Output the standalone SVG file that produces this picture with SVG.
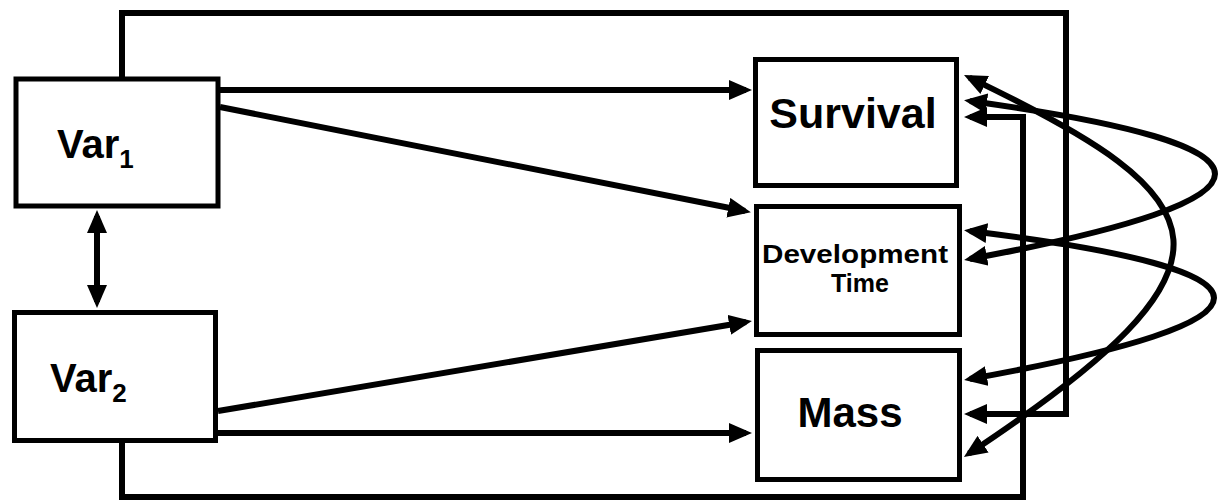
<svg xmlns="http://www.w3.org/2000/svg" width="1220" height="503" viewBox="0 0 1220 503">
<style>
.box{fill:#fff;stroke:#000;stroke-width:5}
.ln{fill:none;stroke:#000;stroke-width:6}
.bt{font-family:"Liberation Sans",Arial,sans-serif;font-weight:bold;fill:#000}
</style>
<defs>
<marker id="ah" markerUnits="userSpaceOnUse" markerWidth="23" markerHeight="20" refX="17" refY="10" orient="auto-start-reverse" viewBox="0 0 23 20">
<path d="M0,0 L23,10 L0,20 z" fill="#000"/>
</marker>
</defs>
<rect width="1220" height="503" fill="#fff"/>
<g id="connectors">
<path class="ln" d="M122,77 V13 H1066 V414 H970" marker-end="url(#ah)"/>
<path class="ln" d="M122,443 V497 H1023 V117 H970" marker-end="url(#ah)"/>
<path class="ln" d="M220,90 H746" marker-end="url(#ah)"/>
<path class="ln" d="M220,107 L745,211" marker-end="url(#ah)"/>
<path class="ln" d="M218,411 L746,322" marker-end="url(#ah)"/>
<path class="ln" d="M218,433 H746" marker-end="url(#ah)"/>
<path class="ln" d="M97,216 V302" marker-start="url(#ah)" marker-end="url(#ah)"/>
<path class="ln" d="M970,101 Q1460,168 970,259" marker-start="url(#ah)" marker-end="url(#ah)"/>
<path class="ln" d="M970,231 Q1458,291 970,379" marker-start="url(#ah)" marker-end="url(#ah)"/>
<path class="ln" d="M969.4,77.6 C1225,200 1258,262 968.9,453.6" marker-start="url(#ah)" marker-end="url(#ah)"/>
</g>
<g id="var1">
<rect class="box" x="16" y="79" width="202" height="127"/>
<text class="bt" x="57" y="158" font-size="40">Var<tspan font-size="26" dy="10">1</tspan></text>
</g>
<g id="var2">
<rect class="box" x="14.5" y="312.5" width="201" height="128"/>
<text class="bt" x="50" y="392" font-size="40">Var<tspan font-size="26" dy="10">2</tspan></text>
</g>
<g id="survival">
<rect class="box" x="755.5" y="59.5" width="201" height="126"/>
<text class="bt" x="853" y="128" font-size="43" text-anchor="middle">Survival</text>
</g>
<g id="devtime">
<rect class="box" x="756.5" y="206.5" width="203" height="128"/>
<text class="bt" x="855" y="263" font-size="25" text-anchor="middle" textLength="186" lengthAdjust="spacingAndGlyphs">Development</text>
<text class="bt" x="860" y="292" font-size="25" text-anchor="middle">Time</text>
</g>
<g id="mass">
<rect class="box" x="757.5" y="350.5" width="202" height="129"/>
<text class="bt" x="850" y="427" font-size="42" text-anchor="middle">Mass</text>
</g>
</svg>
